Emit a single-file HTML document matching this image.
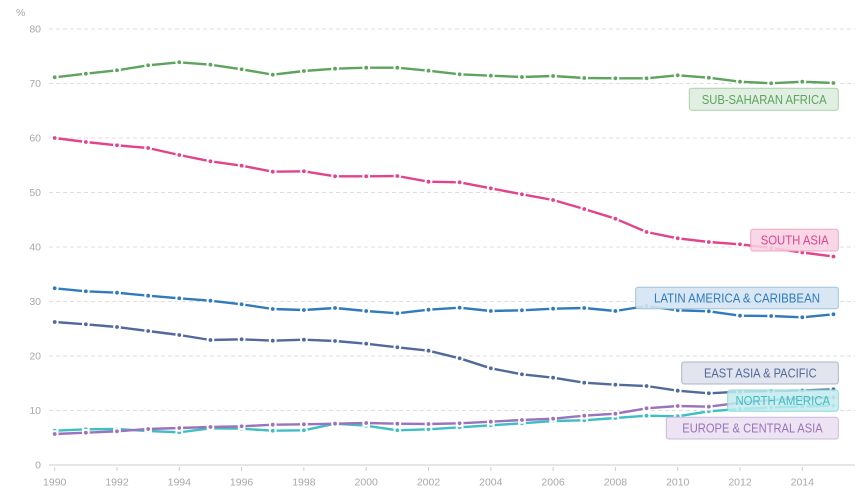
<!DOCTYPE html>
<html>
<head>
<meta charset="utf-8">
<style>
html,body{margin:0;padding:0;background:#fff;}
svg{display:block;font-family:"Liberation Sans","DejaVu Sans",sans-serif;}
</style>
</head>
<body>
<svg width="864" height="500" viewBox="0 0 864 500" xmlns="http://www.w3.org/2000/svg">
<defs>
<marker id="mg" markerWidth="10" markerHeight="10" refX="5" refY="5" markerUnits="userSpaceOnUse"><circle cx="5" cy="5" r="3.9" fill="#fff"/><circle cx="5" cy="5" r="1.9" fill="#5ea35e"/></marker>
<marker id="mp" markerWidth="10" markerHeight="10" refX="5" refY="5" markerUnits="userSpaceOnUse"><circle cx="5" cy="5" r="3.9" fill="#fff"/><circle cx="5" cy="5" r="1.9" fill="#e2438b"/></marker>
<marker id="mb" markerWidth="10" markerHeight="10" refX="5" refY="5" markerUnits="userSpaceOnUse"><circle cx="5" cy="5" r="3.9" fill="#fff"/><circle cx="5" cy="5" r="1.9" fill="#2f7bbd"/></marker>
<marker id="ms" markerWidth="10" markerHeight="10" refX="5" refY="5" markerUnits="userSpaceOnUse"><circle cx="5" cy="5" r="3.9" fill="#fff"/><circle cx="5" cy="5" r="1.9" fill="#51699b"/></marker>
<marker id="mu" markerWidth="10" markerHeight="10" refX="5" refY="5" markerUnits="userSpaceOnUse"><circle cx="5" cy="5" r="3.9" fill="#fff"/><circle cx="5" cy="5" r="1.9" fill="#9b72bb"/></marker>
<marker id="mt" markerWidth="10" markerHeight="10" refX="5" refY="5" markerUnits="userSpaceOnUse"><circle cx="5" cy="5" r="3.9" fill="#fff"/><circle cx="5" cy="5" r="1.9" fill="#3fbec4"/></marker>
</defs>

<!-- gridlines -->
<g stroke="#dedede" stroke-width="1" stroke-dasharray="4,3">
<line x1="49" y1="29" x2="855" y2="29"/>
<line x1="49" y1="83.5" x2="855" y2="83.5"/>
<line x1="49" y1="138" x2="855" y2="138"/>
<line x1="49" y1="192.5" x2="855" y2="192.5"/>
<line x1="49" y1="247" x2="855" y2="247"/>
<line x1="49" y1="301.5" x2="855" y2="301.5"/>
<line x1="49" y1="356" x2="855" y2="356"/>
<line x1="49" y1="410.5" x2="855" y2="410.5"/>
</g>
<line x1="49" y1="465" x2="855" y2="465" stroke="#e6e6e6" stroke-width="2"/>
<g stroke="#cfcfcf" stroke-width="1">
<line x1="54.7" y1="467" x2="54.7" y2="471"/>
<line x1="117" y1="467" x2="117" y2="471"/>
<line x1="179.3" y1="467" x2="179.3" y2="471"/>
<line x1="241.6" y1="467" x2="241.6" y2="471"/>
<line x1="303.9" y1="467" x2="303.9" y2="471"/>
<line x1="366.2" y1="467" x2="366.2" y2="471"/>
<line x1="428.5" y1="467" x2="428.5" y2="471"/>
<line x1="490.8" y1="467" x2="490.8" y2="471"/>
<line x1="553.1" y1="467" x2="553.1" y2="471"/>
<line x1="615.4" y1="467" x2="615.4" y2="471"/>
<line x1="677.7" y1="467" x2="677.7" y2="471"/>
<line x1="740" y1="467" x2="740" y2="471"/>
<line x1="802.3" y1="467" x2="802.3" y2="471"/>
</g>

<!-- y labels -->
<g fill="#a8a8a8" font-size="10.5" text-anchor="end">
<text x="41" y="32.7">80</text>
<text x="41" y="87.2">70</text>
<text x="41" y="141.7">60</text>
<text x="41" y="196.2">50</text>
<text x="41" y="250.7">40</text>
<text x="41" y="305.2">30</text>
<text x="41" y="359.7">20</text>
<text x="41" y="414.2">10</text>
<text x="41" y="468.7">0</text>
</g>
<text x="16" y="16" fill="#a8a8a8" font-size="10.5">%</text>

<!-- x labels -->
<g fill="#a8a8a8" font-size="10.5" text-anchor="middle">
<text x="54.7" y="485.5">1990</text>
<text x="117" y="485.5">1992</text>
<text x="179.3" y="485.5">1994</text>
<text x="241.6" y="485.5">1996</text>
<text x="303.9" y="485.5">1998</text>
<text x="366.2" y="485.5">2000</text>
<text x="428.5" y="485.5">2002</text>
<text x="490.8" y="485.5">2004</text>
<text x="553.1" y="485.5">2006</text>
<text x="615.4" y="485.5">2008</text>
<text x="677.7" y="485.5">2010</text>
<text x="740" y="485.5">2012</text>
<text x="802.3" y="485.5">2014</text>
</g>

<!-- series -->
<g fill="none" stroke-width="2.4" stroke-linejoin="round" stroke-linecap="butt">
<polyline stroke="#5ea35e" marker-start="url(#mg)" marker-mid="url(#mg)" marker-end="url(#mg)" points="54.7,77.3 85.85,73.7 117,70.3 148.15,65.3 179.3,62.3 210.45,64.7 241.6,69.3 272.75,74.7 303.9,71 335.05,68.7 366.2,67.7 397.35,67.7 428.5,70.7 459.65,74.3 490.8,75.7 521.95,77 553.1,76 584.25,78 615.4,78.3 646.55,78.3 677.7,75.3 708.85,77.7 740,81.7 771.15,83.3 802.3,81.7 833.45,83"/>
<polyline stroke="#e2438b" marker-start="url(#mp)" marker-mid="url(#mp)" marker-end="url(#mp)" points="54.7,138 85.85,142 117,145.3 148.15,148 179.3,155 210.45,161.3 241.6,165.7 272.75,171.7 303.9,171.3 335.05,176.3 366.2,176.3 397.35,176 428.5,181.7 459.65,182.3 490.8,188.3 521.95,194.3 553.1,200 584.25,209 615.4,218.7 646.55,232 677.7,238.3 708.85,242 740,244.3 771.15,248 802.3,252.5 833.45,256.5"/>
<polyline stroke="#2f7bbd" marker-start="url(#mb)" marker-mid="url(#mb)" marker-end="url(#mb)" points="54.7,288.3 85.85,291.3 117,292.7 148.15,295.7 179.3,298.3 210.45,300.7 241.6,304.3 272.75,309 303.9,310 335.05,308 366.2,311 397.35,313.3 428.5,309.7 459.65,307.7 490.8,311 521.95,310.3 553.1,308.7 584.25,308 615.4,311 646.55,306 677.7,310.3 708.85,311.3 740,315.7 771.15,316 802.3,317.3 833.45,314.3"/>
<polyline stroke="#51699b" marker-start="url(#ms)" marker-mid="url(#ms)" marker-end="url(#ms)" points="54.7,322 85.85,324.3 117,327 148.15,331 179.3,335 210.45,340 241.6,339.3 272.75,340.7 303.9,339.7 335.05,341 366.2,343.7 397.35,347.3 428.5,350.7 459.65,358.3 490.8,368.3 521.95,374.3 553.1,377.7 584.25,382.7 615.4,384.7 646.55,386 677.7,390.7 708.85,393.3 740,391.7 771.15,391 802.3,390.5 833.45,389.3"/>
<polyline stroke="#3fbec4" marker-start="url(#mt)" marker-mid="url(#mt)" marker-end="url(#mt)" points="54.7,430.7 85.85,429.3 117,429 148.15,431 179.3,432.3 210.45,428.3 241.6,428.7 272.75,430.7 303.9,430.3 335.05,423.7 366.2,425.7 397.35,430.3 428.5,429.3 459.65,427.3 490.8,425.3 521.95,423.3 553.1,421 584.25,420.3 615.4,418 646.55,415.7 677.7,416.3 708.85,411.3 740,409 771.15,407.5 802.3,406.5 833.45,405.5"/>
<polyline stroke="#9b72bb" marker-start="url(#mu)" marker-mid="url(#mu)" marker-end="url(#mu)" points="54.7,434 85.85,432.7 117,431.3 148.15,429 179.3,428 210.45,427 241.6,426.3 272.75,424.7 303.9,424.3 335.05,423.7 366.2,423 397.35,423.7 428.5,424 459.65,423.3 490.8,421.7 521.95,420 553.1,418.7 584.25,415.7 615.4,413.7 646.55,408.3 677.7,406 708.85,406.7 740,402.7 771.15,400 802.3,398.5 833.45,397.5"/>
</g>

<!-- labels -->
<g font-size="12.5" text-anchor="middle">
<rect x="689.3" y="88.3" width="149" height="22" rx="2.5" fill="#deeedf" fill-opacity="0.92" stroke="#a9d2a9" stroke-width="1"/>
<text x="764.2" y="103.8" fill="#5ea35e" textLength="125" lengthAdjust="spacingAndGlyphs">SUB-SAHARAN AFRICA</text>

<rect x="750.7" y="229.3" width="87.6" height="21.7" rx="2.5" fill="#f8d2e3" fill-opacity="0.88" stroke="#efa5c6" stroke-width="1"/>
<text x="794.7" y="244.6" fill="#e2438b" textLength="68" lengthAdjust="spacingAndGlyphs">SOUTH ASIA</text>

<rect x="635.7" y="287.3" width="202.6" height="21.4" rx="2.5" fill="#d4e4f2" fill-opacity="0.9" stroke="#9cc1e0" stroke-width="1"/>
<text x="737" y="302.5" fill="#2f7bbd" textLength="166" lengthAdjust="spacingAndGlyphs">LATIN AMERICA &amp; CARIBBEAN</text>

<rect x="681.7" y="362" width="156.6" height="22" rx="2.5" fill="#dfe2ed" fill-opacity="0.92" stroke="#aab5cc" stroke-width="1"/>
<text x="760.3" y="377.5" fill="#51699b" textLength="112.7" lengthAdjust="spacingAndGlyphs">EAST ASIA &amp; PACIFIC</text>

<rect x="727.7" y="390" width="110.6" height="21.3" rx="2.5" fill="#c2ebed" fill-opacity="0.85" stroke="#8fd9dc" stroke-width="1"/>
<text x="782.8" y="405.2" fill="#3fbec4" textLength="94.7" lengthAdjust="spacingAndGlyphs">NORTH AMERICA</text>

<rect x="666.3" y="417.3" width="172" height="21.7" rx="2.5" fill="#ebe2f2" fill-opacity="0.92" stroke="#cdb8de" stroke-width="1"/>
<text x="752.5" y="432.7" fill="#9b72bb" textLength="140.4" lengthAdjust="spacingAndGlyphs">EUROPE &amp; CENTRAL ASIA</text>
</g>
</svg>
</body>
</html>
